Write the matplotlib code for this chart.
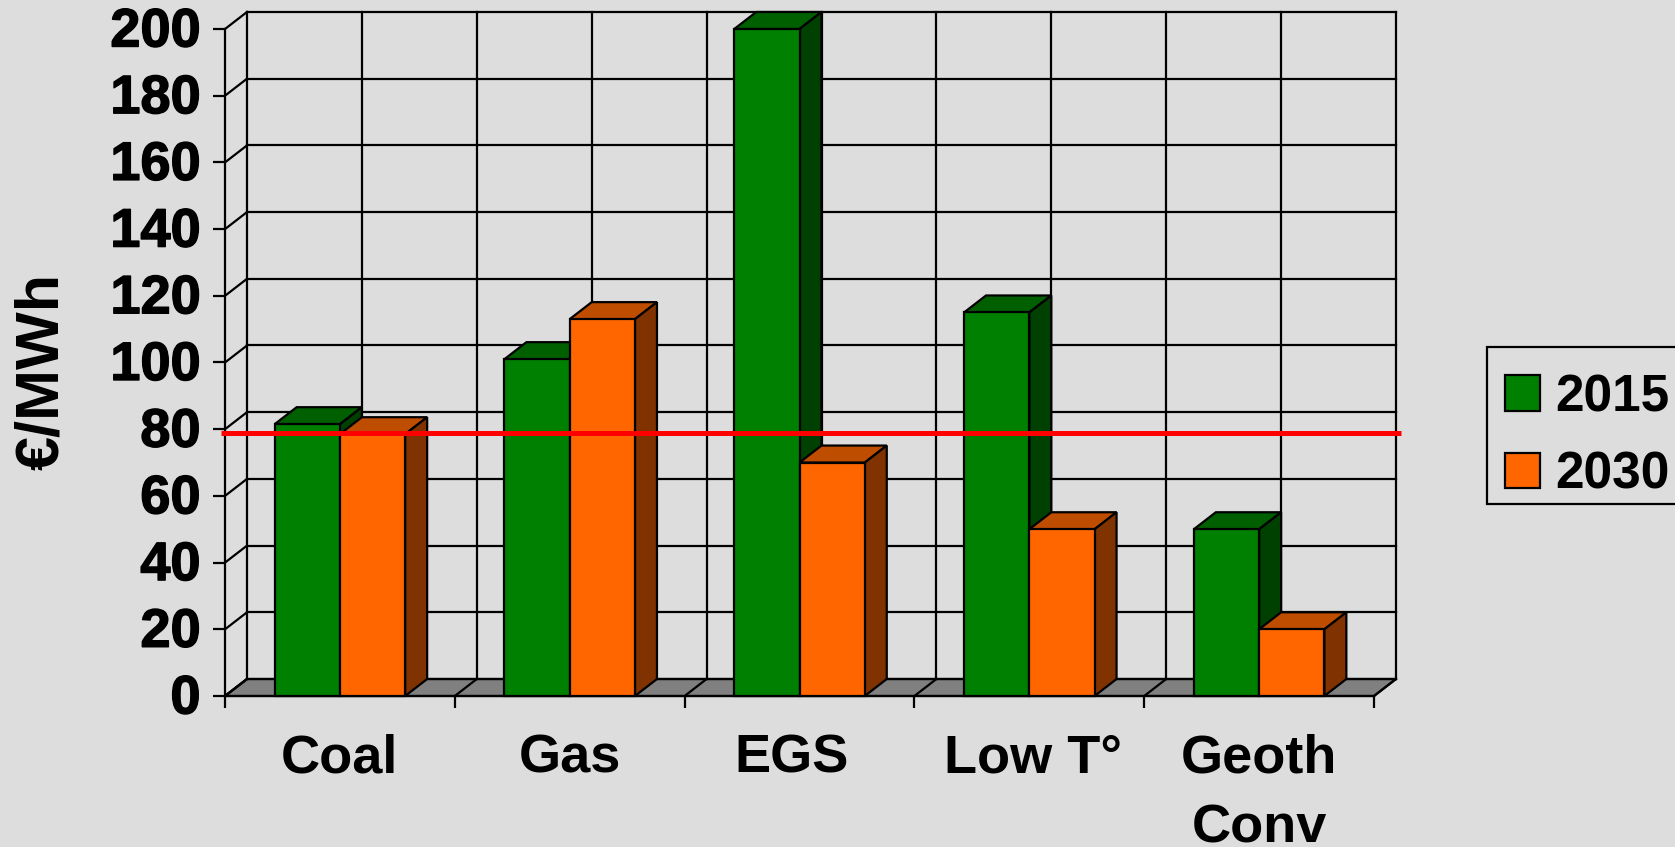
import matplotlib
matplotlib.use("Agg")
import matplotlib.pyplot as plt
import matplotlib.patheffects as pe
from matplotlib.patches import Patch, Polygon, Rectangle
from matplotlib.transforms import ScaledTranslation

categories = ["Coal", "Gas", "EGS", "Low T°", "Geoth\nConv"]
series_names = ["2015", "2030"]
values_2015 = [81.5, 101, 200, 115, 50]
values_2030 = [78.5, 113, 70, 50, 20]
reference_price = 78.8
y_ticks = list(range(0, 201, 20))

bg = "#DDDDDD"
faces = ["#008000", "#FF6600"]
tops = ["#006000", "#BF4D00"]
sides = ["#004000", "#803300"]
floor = "#808080"
lw = 1.6

W, H = 1675, 847
x0, x1, y0, y1 = 225, 1374, 696, 29  # front plane in pixels

plt.rcParams["font.family"] = ["Liberation Sans", "DejaVu Sans"]
fig = plt.figure(figsize=(W / 100, H / 100), dpi=100, facecolor=bg)
ax = fig.add_axes([x0 / W, 1 - y0 / H, (x1 - x0) / W, (y0 - y1) / H])
ax.set_facecolor("none")
ax.set_xlim(0, 5)
ax.set_ylim(0, 200)

# 3d depth in data units
dx = 22 / ((x1 - x0) / 5)
dy = 17 / ((y0 - y1) / 200)
bar_w = 0.284

# floor and back wall
ax.add_patch(Polygon([(0, 0), (5, 0), (5 + dx, dy), (dx, dy)], closed=True, fc=floor, ec="black",
                     lw=lw, clip_on=False, zorder=1))
for v in y_ticks:
    ax.plot([dx, 5 + dx], [v + dy, v + dy], color="black", lw=lw, clip_on=False, zorder=1)
    ax.plot([0, dx], [v, v + dy], color="black", lw=lw, clip_on=False, zorder=1)
for i in range(11):
    ax.plot([i / 2 + dx, i / 2 + dx], [dy, 200 + dy], color="black", lw=lw, clip_on=False, zorder=1)
for i in range(6):
    ax.plot([i, i + dx], [0, dy], color="black", lw=lw, clip_on=False, zorder=1.5)

# bars, painted back to front
for s, vals in enumerate([values_2015, values_2030]):
    z = 3 + s
    lefts = [i + 0.5 - bar_w + s * bar_w for i in range(len(categories))]
    ax.bar(lefts, vals, width=bar_w, align="edge", color=faces[s], edgecolor="black", lw=lw,
           zorder=z + 0.2, clip_on=False)
    for l, v in zip(lefts, vals):
        r = l + bar_w
        ax.add_patch(Polygon([(l, v), (r, v), (r + dx, v + dy), (l + dx, v + dy)], closed=True,
                             fc=tops[s], ec="black", lw=lw, clip_on=False, zorder=z))
        ax.add_patch(Polygon([(r, 0), (r + dx, dy), (r + dx, v + dy), (r, v)], closed=True,
                             fc=sides[s], ec="black", lw=lw, clip_on=False, zorder=z))

ax.plot([-0.018, 5 + dx + 0.02], [reference_price, reference_price], color="#FF0000", lw=3.6,
        solid_capstyle="butt", clip_on=False, zorder=8)

for name in ["top", "right"]:
    ax.spines[name].set_visible(False)
for name in ["left", "bottom"]:
    ax.spines[name].set_linewidth(lw)

bold = [pe.withStroke(linewidth=1.0, foreground="black")]
ax.set_yticks(y_ticks)
ax.set_yticklabels([str(v) for v in y_ticks], fontsize=39, fontweight="bold", path_effects=bold)
ax.tick_params(axis="y", length=8.6, width=lw, pad=9)
up = ScaledTranslation(0, 2 / 100, fig.dpi_scale_trans)
for lab in ax.get_yticklabels():
    lab.set_transform(lab.get_transform() + up)

ax.set_xticks(range(6))
ax.set_xticklabels([""] * 6)
ax.tick_params(axis="x", which="major", length=8.6, width=lw)
ax.set_xticks([i + 0.5 for i in range(5)], minor=True)
ax.set_xticklabels(categories, minor=True, fontsize=39, fontweight="bold", linespacing=1.5, va="top")
ax.tick_params(axis="x", which="minor", length=0, pad=27)
# EGS and Low T sit a little off centre in the original
shifts = [0, 0, -8, 4, 0]
for lab, sh in zip(ax.get_xticklabels(minor=True), shifts):
    lab.set_transform(lab.get_transform() + ScaledTranslation(sh / 100, 0, fig.dpi_scale_trans))

fig.text(43 / W, 1 - 371 / H, "€/MWh", rotation=90, fontsize=44, fontweight="bold", ha="center", va="center")

# legend frame runs off the right edge of the picture
fig.add_artist(Rectangle((1487 / W, 1 - 504 / H), 300 / W, 157 / H, transform=fig.transFigure,
                         fc=bg, ec="black", lw=lw))
handles = [Patch(facecolor=c, edgecolor="black", lw=lw) for c in faces]
fig.legend(handles, series_names, loc="upper left", bbox_to_anchor=(1505 / W, 1 - 373 / H), borderaxespad=0,
           prop={"size": 37, "weight": "bold"}, frameon=False, handlelength=0.68, handleheight=0.68,
           handletextpad=0.3, labelspacing=0.55, borderpad=0)

fig.savefig("out.png", dpi=100, facecolor=bg)
